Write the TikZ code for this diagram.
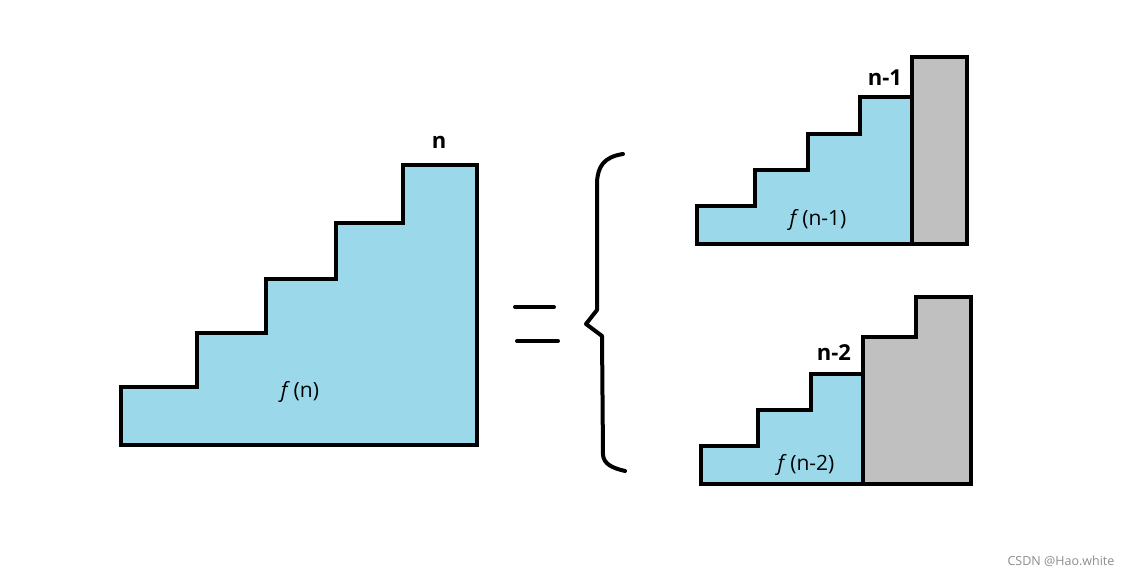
\documentclass[tikz,border=0pt]{standalone}
\usepackage{fontspec}
\setmainfont{Open Sans}
\usepackage{xcolor}
\usetikzlibrary{positioning}

\definecolor{stairblue}{RGB}{155,217,234}
\definecolor{wallgray}{RGB}{192,192,192}

\begin{document}
\begin{tikzpicture}[x=1pt, y=-1pt,
    stair/.style={draw=black, fill=stairblue, line width=4pt, line join=miter},
    wall/.style={draw=black, fill=wallgray, line width=4pt, line join=miter},
    pen/.style={draw=black, line width=4pt, line cap=round, line join=round},
    tag/.style={inner sep=0pt, font=\fontsize{22}{26}\selectfont\bfseries},
    fval/.style={inner sep=0pt, font=\fontsize{21}{25}\selectfont}]
    \useasboundingbox (0,0) rectangle (1128,577);

    % the whole staircase
    \path [stair] (121,445) -- (121,387) -- (197,387) -- (197,333) -- (266,333) -- (266,279)
        -- (336,279) -- (336,223) -- (403,223) -- (403,165) -- (477,165) -- (477,445) -- cycle;
    \node [tag] (lab_n) at (439,142) {n};
    \node [fval] (f_n) at (300,392) {\textit{f}\,(n)};

    % equals sign and brace
    \draw [pen] (515,307) -- (554,307);
    \draw [pen] (517,341) -- (558,341);
    \draw [pen] (623,154) .. controls (604,157) and (598,166) .. (597,182) -- (597,310)
        -- (586,324) -- (602,336) -- (603,455) .. controls (604,464) and (612,468) .. (625,471);

    % one step left
    \path [stair] (697,244) -- (697,206) -- (755,206) -- (755,170) -- (808,170) -- (808,134)
        -- (860,134) -- (860,97) -- (912,97) -- (912,244) -- cycle;
    \path [wall] (912,57) rectangle (967,244);
    \node [tag] (lab_n1) at (885,78) {n-1};
    \node [fval] (f_n1) at (818,220) {\textit{f}\,(n-1)};

    % two steps left
    \path [stair] (701,484) -- (701,446) -- (758,446) -- (758,410) -- (811,410) -- (811,374)
        -- (863,374) -- (863,484) -- cycle;
    \path [wall] (863,484) -- (863,337) -- (916,337) -- (916,297) -- (971,297) -- (971,484) -- cycle;
    \node [tag] (lab_n2) at (834,353) {n-2};
    \node [fval] (f_n2) at (806,465) {\textit{f}\,(n-2)};

    \node [inner sep=0pt, text=black!45, font=\fontsize{12.5}{15}\selectfont] (mark) at (1061,561) {CSDN @Hao.white};
\end{tikzpicture}
\end{document}
